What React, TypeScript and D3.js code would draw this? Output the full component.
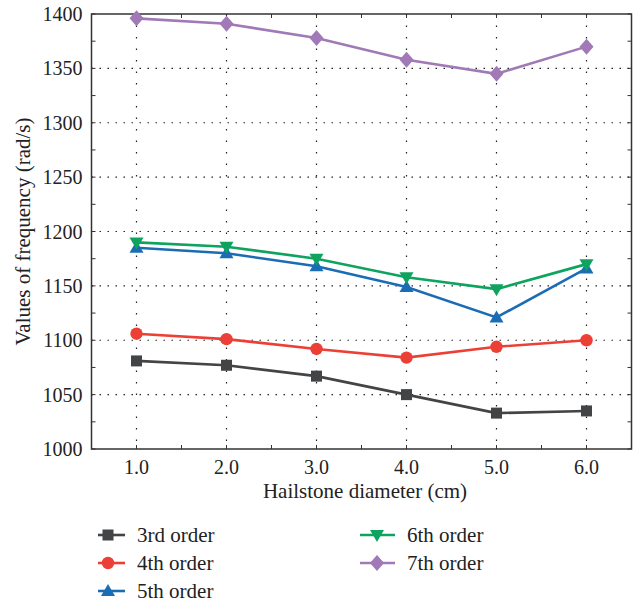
import React from "react";
import * as d3 from "d3";

const diameters = [1, 2, 3, 4, 5, 6];
const xTickLabels = ["1.0", "2.0", "3.0", "4.0", "5.0", "6.0"];
const yTicks = [1000, 1050, 1100, 1150, 1200, 1250, 1300, 1350, 1400];
const order3 = [1081, 1077, 1067, 1050, 1033, 1035];
const order4 = [1106, 1101, 1092, 1084, 1094, 1100];
const order5 = [1185, 1180, 1168, 1149, 1121, 1166];
const order6 = [1190, 1186, 1175, 1158, 1147, 1170];
const order7 = [1396, 1391, 1378, 1358, 1345, 1370];
const seriesNames = ["3rd order", "4th order", "5th order", "6th order", "7th order"];
const seriesColors = ["#424446", "#ec4036", "#1a6db5", "#0ea35f", "#a079b6"];
const seriesSymbols = ["square", "circle", "triangle", "triangleDown", "diamond"];

const W = 641, H = 605;
const L = 91.5, R = 631.5, T = 14, B = 449;
const FONT = "'Liberation Serif', 'DejaVu Serif', serif";

function Marker({ kind, x, y, color }: { kind: string; x: number; y: number; color: string }) {
  if (kind === "square") return <rect x={x - 5.5} y={y - 5.5} width={11} height={11} fill={color} />;
  if (kind === "circle") return <circle cx={x} cy={y} r={6.2} fill={color} />;
  if (kind === "triangle") return <path d={`M${x},${y - 7}L${x + 7},${y + 5}L${x - 7},${y + 5}Z`} fill={color} />;
  if (kind === "triangleDown") return <path d={`M${x},${y + 7}L${x + 7},${y - 5}L${x - 7},${y - 5}Z`} fill={color} />;
  return <path d={`M${x},${y - 8}L${x + 7},${y}L${x},${y + 8}L${x - 7},${y}Z`} fill={color} />;
}

export default function App() {
  const x = d3.scaleLinear().domain([0.5, 6.5]).range([L, R]);
  const y = d3.scaleLinear().domain([1000, 1400]).range([B, T]);
  const all = [order3, order4, order5, order6, order7];
  const line = d3.line<number>().x((_, i) => x(diameters[i])).y((d) => y(d));
  const minorX = d3.range(0.5, 6.51, 0.5);
  const minorY = d3.range(1000, 1401, 25);
  const legendPos = [
    { lx: 98, ly: 535 }, { lx: 98, ly: 563 }, { lx: 98, ly: 591 },
    { lx: 360, ly: 535 }, { lx: 360, ly: 563 },
  ];
  return (
    <svg width={W} height={H} style={{ position: "absolute", left: 0, top: 0 }} fontFamily={FONT}>
      <rect x={0} y={0} width={W} height={H} fill="#fff" />
      {yTicks.slice(1, -1).map((v) => (
        <line key={"gy" + v} x1={L} x2={R} y1={y(v)} y2={y(v)} stroke="#222" strokeWidth={1.2} strokeDasharray="1.5,6.5" />
      ))}
      {diameters.map((v) => (
        <line key={"gx" + v} x1={x(v)} x2={x(v)} y1={T} y2={B} stroke="#222" strokeWidth={1.2} strokeDasharray="1.5,10" />
      ))}
      {minorX.map((v) => (
        <g key={"mx" + v}>
          <line x1={x(v)} x2={x(v)} y1={B} y2={B - 4} stroke="#333" strokeWidth={1} />
          <line x1={x(v)} x2={x(v)} y1={T} y2={T + 4} stroke="#333" strokeWidth={1} />
        </g>
      ))}
      {minorY.map((v) => (
        <g key={"my" + v}>
          <line x1={L} x2={L + 4} y1={y(v)} y2={y(v)} stroke="#333" strokeWidth={1} />
          <line x1={R} x2={R - 4} y1={y(v)} y2={y(v)} stroke="#333" strokeWidth={1} />
        </g>
      ))}
      <rect x={L} y={T} width={R - L} height={B - T} fill="none" stroke="#333" strokeWidth={1.5} />
      {yTicks.map((v) => (
        <text key={"yl" + v} x={L - 9} y={y(v)} dy="0.35em" textAnchor="end" fontSize={20} fill="#222">{v}</text>
      ))}
      {diameters.map((v, i) => (
        <text key={"xl" + v} x={x(v)} y={B + 25} textAnchor="middle" fontSize={20} fill="#222">{xTickLabels[i]}</text>
      ))}
      <text x={365} y={498} textAnchor="middle" fontSize={21} fill="#222">Hailstone diameter (cm)</text>
      <text transform={`translate(30,${(T + B) / 2}) rotate(-90)`} textAnchor="middle" fontSize={21} fill="#222">Values of frequency (rad/s)</text>
      {all.map((s, k) => (
        <g key={"s" + k}>
          <path d={line(s) || ""} fill="none" stroke={seriesColors[k]} strokeWidth={2.6} />
          {s.map((v, i) => (
            <Marker key={i} kind={seriesSymbols[k]} x={x(diameters[i])} y={y(v)} color={seriesColors[k]} />
          ))}
        </g>
      ))}
      {seriesNames.map((n, k) => {
        const p = legendPos[k];
        const w = k < 3 ? 27 : 35;
        return (
          <g key={"lg" + k}>
            <line x1={p.lx} x2={p.lx + w} y1={p.ly} y2={p.ly} stroke={seriesColors[k]} strokeWidth={2.6} />
            <Marker kind={seriesSymbols[k]} x={p.lx + (k < 3 ? 10 : 17)} y={p.ly} color={seriesColors[k]} />
            <text x={p.lx + (k < 3 ? 39 : 47)} y={p.ly} dy="0.33em" fontSize={21} fill="#222">{n}</text>
          </g>
        );
      })}
    </svg>
  );
}
